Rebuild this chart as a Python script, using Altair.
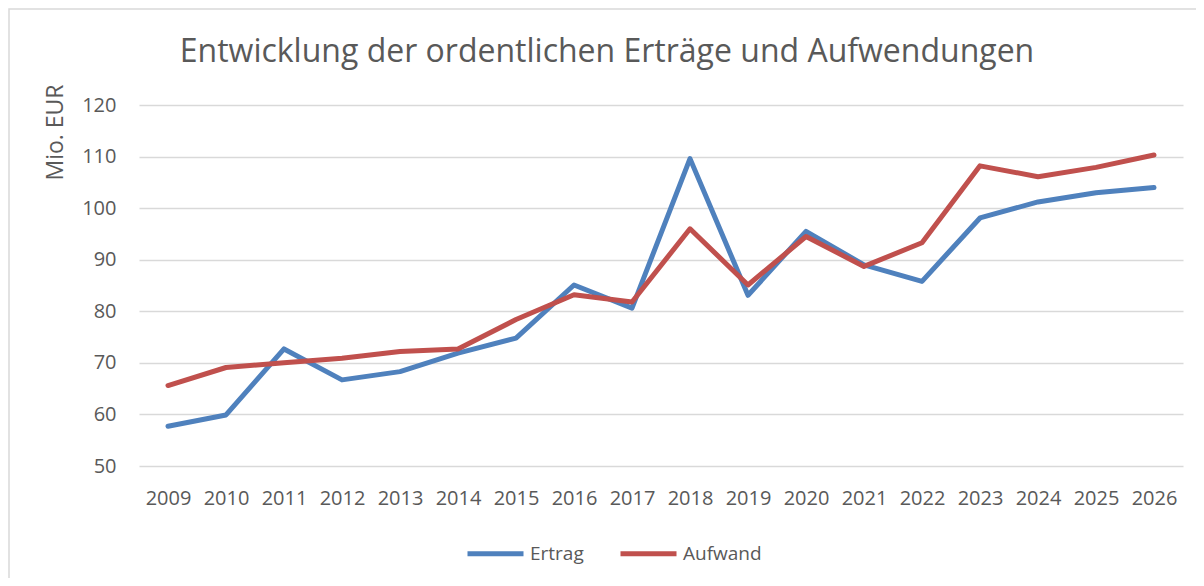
import altair as alt
import pandas as pd

years = [str(y) for y in range(2009, 2027)]
ertrag = [57.7, 59.9, 72.7, 66.7, 68.3, 71.9, 74.8, 85.1, 80.6, 109.6, 83.1, 95.5, 89.0, 85.8, 98.1, 101.2, 103.0, 104.0]
aufwand = [65.6, 69.1, 70.0, 70.9, 72.2, 72.7, 78.4, 83.2, 81.8, 96.0, 85.1, 94.5, 88.7, 93.3, 108.2, 106.1, 107.9, 110.3]
series = ["Ertrag", "Aufwand"]
colors = ["#4F81BD", "#C0504D"]

df = pd.concat([
    pd.DataFrame({"Jahr": years, "Wert": ertrag, "Reihe": "Ertrag"}),
    pd.DataFrame({"Jahr": years, "Wert": aufwand, "Reihe": "Aufwand"}),
])

FONT = "Open Sans"
GRAY = "#595959"
W, H = 1044, 361
PL, PT, PR, PB = 131, 97, 13, 112

border = alt.Chart(pd.DataFrame({"a": [0]})).mark_rect(
    fillOpacity=0, stroke="#D9D9D9", strokeWidth=1.5
).encode(
    x=alt.value(-PL + 1), x2=alt.value(W + PR + 20),
    y=alt.value(-PT + 1), y2=alt.value(H + PB + 20),
)

lines = alt.Chart(df).mark_line(strokeWidth=5, strokeCap="round", strokeJoin="round").encode(
    x=alt.X("Jahr:O", sort=years, title=None,
            axis=alt.Axis(labelAngle=0, ticks=False, domain=False, labelFont=FONT,
                          labelFontSize=20, labelColor=GRAY, labelPadding=22)),
    y=alt.Y("Wert:Q", scale=alt.Scale(domain=[50, 120], nice=False, zero=False),
            title="Mio. EUR",
            axis=alt.Axis(values=list(range(50, 121, 10)), ticks=False, domain=False,
                          labelFont=FONT, labelFontSize=20, labelColor=GRAY, labelPadding=23,
                          gridColor="#D9D9D9", gridWidth=1.5,
                          titleFont=FONT, titleFontSize=23, titleFontWeight="normal",
                          titleColor=GRAY, titleAngle=-90, titleX=-84, titleY=27,
                          titleAlign="center", titleBaseline="middle")),
    color=alt.Color("Reihe:N", sort=series,
                    scale=alt.Scale(domain=series, range=colors),
                    legend=alt.Legend(title=None, orient="none", direction="horizontal",
                                      legendX=326, legendY=418, symbolType="stroke",
                                      symbolSize=3136, symbolStrokeWidth=5,
                                      labelFont=FONT, labelFontSize=19, labelColor=GRAY,
                                      labelOffset=4, columnPadding=26)),
)

chart = alt.layer(border, lines).properties(
    width=W, height=H,
    padding={"left": PL, "top": PT, "right": PR, "bottom": PB},
    autosize=alt.AutoSizeParams(type="none"),
    title=alt.TitleParams("Entwicklung der ordentlichen Erträge und Aufwendungen",
                          font=FONT, fontSize=32, fontWeight="normal", color=GRAY,
                          anchor="middle", frame="group", dx=-54, offset=0, dy=61),
).configure_view(stroke=None)

chart.save("out.html", embed_options={"renderer": "svg", "actions": False})
